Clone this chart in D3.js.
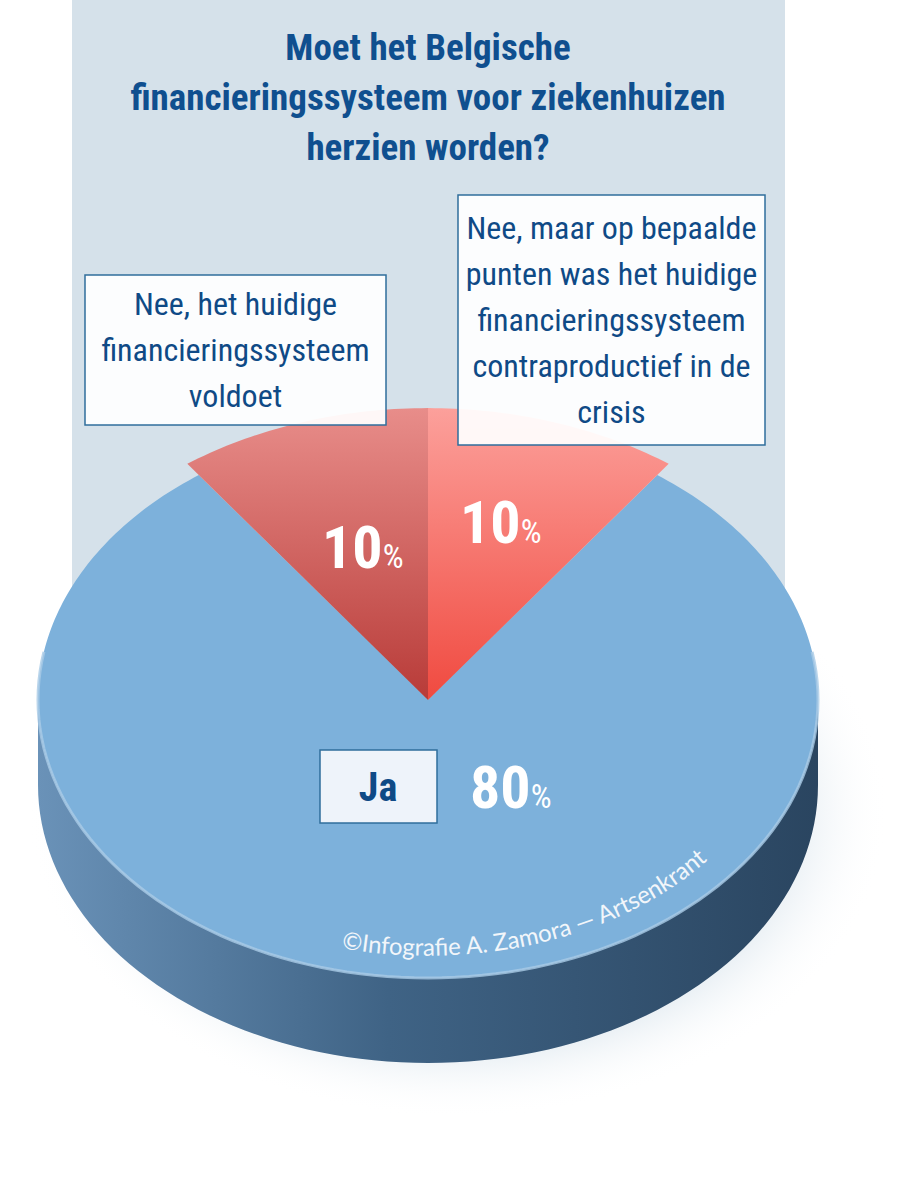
<!DOCTYPE html>
<html><head><meta charset="utf-8">
<script src="https://cdn.jsdelivr.net/npm/d3@7"></script>
<style>body{margin:0;background:#fff}svg{display:block}</style>
</head><body>
<svg id="c" width="916" height="1200"></svg>
<script>
// data
const labels = ["Ja", "Nee, het huidige financieringssysteem voldoet", "Nee, maar op bepaalde punten was het huidige financieringssysteem contraproductief in de crisis"];
const values = [80, 10, 10];
const title = ["Moet het Belgische", "financieringssysteem voor ziekenhuizen", "herzien worden?"];
const boxLines = [
  ["Nee, het huidige", "financieringssysteem", "voldoet"],
  ["Nee, maar op bepaalde", "punten was het huidige", "financieringssysteem", "contraproductief in de", "crisis"]
];

const svg = d3.select("#c");
const font = "'Liberation Sans Narrow','Roboto Condensed','DejaVu Sans Condensed',sans-serif";
const cx = 428, cy = 700, rx = 390, ry = 278, depth = 85;

const defs = svg.append("defs");
const g1 = defs.append("linearGradient").attr("id", "side");
g1.append("stop").attr("offset", "0%").attr("stop-color", "#6a92b8");
g1.append("stop").attr("offset", "45%").attr("stop-color", "#3f6385");
g1.append("stop").attr("offset", "100%").attr("stop-color", "#2a4560");
const gL = defs.append("linearGradient").attr("id", "redL").attr("x1", 0).attr("y1", 0).attr("x2", 0).attr("y2", 1);
gL.append("stop").attr("offset", "0%").attr("stop-color", "#e88d8a");
gL.append("stop").attr("offset", "100%").attr("stop-color", "#b83b38");
const gR = defs.append("linearGradient").attr("id", "redR").attr("x1", 0).attr("y1", 0).attr("x2", 0).attr("y2", 1);
gR.append("stop").attr("offset", "0%").attr("stop-color", "#fca09b");
gR.append("stop").attr("offset", "100%").attr("stop-color", "#f04a40");
const sh = defs.append("radialGradient").attr("id", "shadow");
sh.append("stop").attr("offset", "60%").attr("stop-color", "#8fb0c8").attr("stop-opacity", 0.7);
sh.append("stop").attr("offset", "100%").attr("stop-color", "#fff").attr("stop-opacity", 0);

// background panel
svg.append("rect").attr("x", 72).attr("y", 0).attr("width", 713).attr("height", 700).attr("fill", "#d5e1ea");

// shadow
svg.append("ellipse").attr("cx", cx + 30).attr("cy", cy + depth + 25).attr("rx", rx + 40).attr("ry", ry + 30).attr("fill", "url(#shadow)");

// side of the disk
const proj = (a, s = 1, dy = 0) => [cx + rx * s * Math.sin(a), cy + dy - ry * s * Math.cos(a)];
const sidePts = d3.range(90, 271, 2).map(d => proj(d * Math.PI / 180))
  .concat(d3.range(270, 89, -2).map(d => proj(d * Math.PI / 180, 1, depth)));
svg.append("path").attr("d", d3.line()(sidePts) + "Z").attr("fill", "url(#side)");

// top face slices
const pie = d3.pie().sort(null).startAngle(Math.PI / 5).endAngle(Math.PI / 5 + 2 * Math.PI);
const arcs = pie(values);
const fills = ["#7db1db", "url(#redL)", "url(#redR)"];
arcs.forEach((a, i) => {
  const s = i === 0 ? 1 : 1.05;
  const n = Math.max(8, Math.round((a.endAngle - a.startAngle) * 60));
  const pts = [[cx, cy]].concat(d3.range(n + 1).map(k => proj(a.startAngle + (a.endAngle - a.startAngle) * k / n, s)));
  svg.append("path").attr("d", d3.line()(pts) + "Z").attr("fill", fills[i]);
});
// rim highlight
const rimPts = d3.range(80, 281, 2).map(d => proj(d * Math.PI / 180));
svg.append("path").attr("d", d3.line()(rimPts)).attr("fill", "none").attr("stroke", "#a9cbe6").attr("stroke-width", 3).attr("opacity", 0.8);

// title
svg.append("g").selectAll("text").data(title).join("text")
  .attr("x", 428).attr("y", (d, i) => 60 + i * 50).attr("text-anchor", "middle")
  .attr("font-family", font).attr("font-weight", "bold").attr("font-size", 37).attr("fill", "#0f4f8f").text(d => d);

// label boxes
const boxes = [{x: 85, y: 275, w: 301, h: 150, lines: boxLines[0]}, {x: 458, y: 195, w: 307, h: 250, lines: boxLines[1]}];
boxes.forEach(b => {
  svg.append("rect").attr("x", b.x).attr("y", b.y).attr("width", b.w).attr("height", b.h)
    .attr("fill", "#fff").attr("fill-opacity", 0.93).attr("stroke", "#2f6e9c").attr("stroke-width", 1.5);
  const off = b.y + b.h / 2 - (b.lines.length - 1) * 23 + 11;
  svg.append("g").selectAll("text").data(b.lines).join("text")
    .attr("x", b.x + b.w / 2).attr("y", (d, i) => off + i * 46).attr("text-anchor", "middle")
    .attr("font-family", font).attr("font-size", 32).attr("fill", "#0f4a86").text(d => d);
});

// percentages
const pct = (x, y, v, size) => {
  const t = svg.append("text").attr("x", x).attr("y", y).attr("font-family", font).attr("font-weight", "bold").attr("fill", "#fff");
  t.append("tspan").attr("font-size", size).text(v);
  t.append("tspan").attr("font-size", size * 0.55).attr("font-weight", "normal").text("%");
};
pct(322, 568, values[1], 60);
pct(460, 543, values[2], 60);
pct(470, 808, values[0], 60);

// Ja box
svg.append("rect").attr("x", 320).attr("y", 750).attr("width", 117).attr("height", 73)
  .attr("fill", "#eef3fa").attr("stroke", "#2f6e9c").attr("stroke-width", 1.5);
svg.append("text").attr("x", 378).attr("y", 801).attr("text-anchor", "middle").attr("font-family", font)
  .attr("font-weight", "bold").attr("font-size", 40).attr("fill", "#0f4a86").text(labels[0]);

// credit along rim
defs.append("path").attr("id", "credit")
  .attr("d", d3.line()(d3.range(194, 120, -1).map(d => proj(d * Math.PI / 180, 0.92))));
svg.append("text").attr("font-family", "Lato,'Open Sans',sans-serif").attr("font-size", 24).attr("fill", "#f2f6fa")
  .append("textPath").attr("href", "#credit").attr("startOffset", "0%").text("©Infografie A. Zamora — Artsenkrant");
</script>
</body></html>
